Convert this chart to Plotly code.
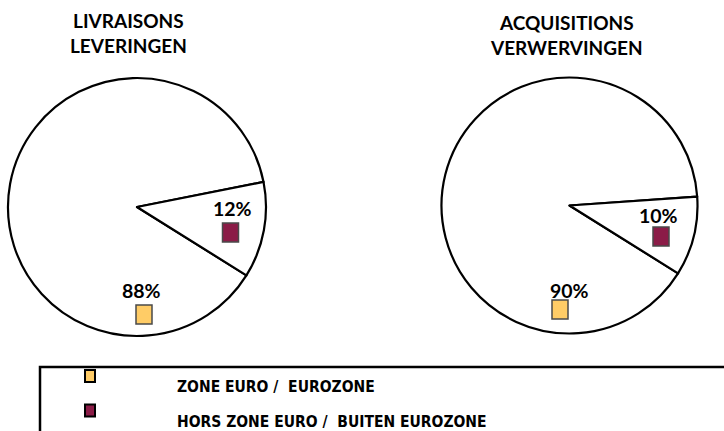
import plotly.graph_objects as go

# Data
categories = ["ZONE EURO /\u00a0\u00a0EUROZONE", "HORS ZONE EURO /\u00a0\u00a0BUITEN EUROZONE"]
livraisons = [88, 12]
acquisitions = [90, 10]
pie_titles = ["LIVRAISONS<br>LEVERINGEN", "ACQUISITIONS<br>VERWERVINGEN"]
swatch_colors = ["#FFCC66", "#8B1C47"]

W, H = 724, 431


def px(x):
    return x / W


def py(y):
    return 1 - y / H


# Pie placement (centre x, centre y, radius) in pixels
pies = [(137, 207, 129), (569.5, 205.5, 128)]
# label anchors per pie: (text x, text y, square x, square y) per category
label_pos = [
    [(141, 290, 144, 314.5), (232.5, 208.5, 230.5, 232.5)],
    [(569, 290, 560, 309.5), (658.5, 215, 661, 236.5)],
]
title_pos = [(128, 33), (566, 35)]

fig = go.Figure()
shapes = []
annotations = []

for i, values in enumerate([livraisons, acquisitions]):
    cx, cy, r = pies[i]
    fig.add_trace(go.Pie(
        labels=categories,
        values=values,
        sort=False,
        direction="clockwise",
        rotation=122,
        marker=dict(colors=["white", "white"], line=dict(color="black", width=2.2)),
        textinfo="none",
        hoverinfo="label+percent",
        domain=dict(x=[px(cx - r), px(cx + r)], y=[py(cy + r), py(cy - r)]),
        showlegend=False,
    ))

    tx, ty = title_pos[i]
    annotations.append(dict(
        x=px(tx), y=py(ty), xref="paper", yref="paper", showarrow=False,
        text="<b>" + pie_titles[i] + "</b>",
        font=dict(family="Lato, Carlito, sans-serif", size=19, color="black"),
        xanchor="center", yanchor="middle",
    ))

    for j, v in enumerate(values):
        lx, ly, sx, sy = label_pos[i][j]
        annotations.append(dict(
            x=px(lx), y=py(ly), xref="paper", yref="paper", showarrow=False,
            text=f"<b>{v}%</b>",
            font=dict(family="Lato, Carlito, sans-serif", size=19.5, color="black"),
            xanchor="center", yanchor="middle",
        ))
        shapes.append(dict(
            type="rect", xref="paper", yref="paper",
            x0=px(sx - 8), x1=px(sx + 8), y0=py(sy + 9.5), y1=py(sy - 9.5),
            fillcolor=swatch_colors[j], line=dict(color="#4a4a4a", width=1.5),
        ))

# Legend box
shapes.append(dict(
    type="rect", xref="paper", yref="paper",
    x0=px(40), x1=px(740), y0=py(445), y1=py(367),
    fillcolor="rgba(0,0,0,0)", line=dict(color="black", width=2.5),
))
legend_rows = [376, 410.5]
legend_text_y = [387, 421.5]
for j, name in enumerate(categories):
    sy = legend_rows[j]
    shapes.append(dict(
        type="rect", xref="paper", yref="paper",
        x0=px(85), x1=px(95), y0=py(sy + 6), y1=py(sy - 6),
        fillcolor=swatch_colors[j], line=dict(color="black", width=2),
    ))
    annotations.append(dict(
        x=px(175), y=py(legend_text_y[j]), xref="paper", yref="paper", showarrow=False,
        text="<b>" + name + "</b>",
        font=dict(family="DejaVu Sans Condensed, Liberation Sans Narrow, Liberation Sans", size=15.5, color="black"),
        xanchor="left", yanchor="middle",
    ))

fig.update_layout(
    width=W, height=H,
    margin=dict(l=0, r=0, t=0, b=0),
    paper_bgcolor="white",
    plot_bgcolor="white",
    shapes=shapes,
    annotations=annotations,
    showlegend=False,
)

# drop the default page margin so the figure sits at the window's corner
fig.write_html("out.html", config={"displayModeBar": False},
               post_script="document.body.style.margin='0';")
